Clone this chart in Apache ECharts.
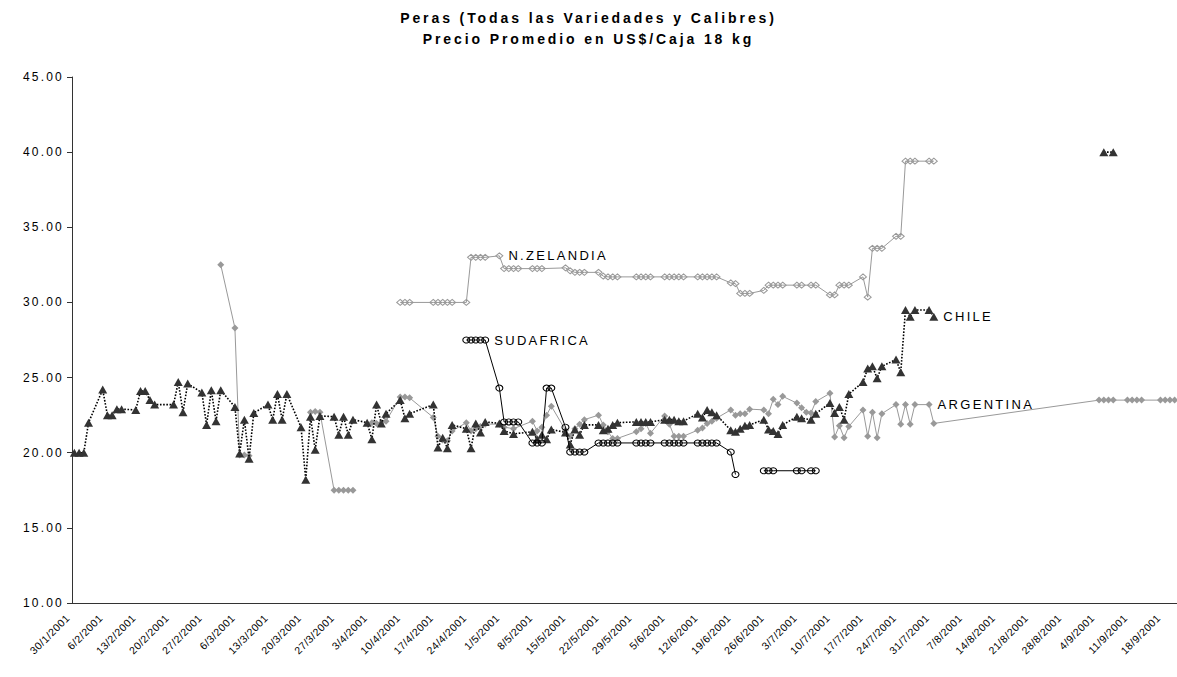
<!DOCTYPE html>
<html>
<head>
<meta charset="utf-8">
<script src="https://cdn.jsdelivr.net/npm/echarts@6/dist/echarts.min.js"></script>
<style>
  html, body { margin: 0; padding: 0; background: #fff; }
  #chart { width: 1177px; height: 677px; }
</style>
</head>
<body>
<div id="chart"></div>
<script>
// ---------- DATA ----------
const START_DAY = 30, START_MONTH = 1, YEAR = 2001, NUM_DAYS = 234;

const yTicks = [10, 15, 20, 25, 30, 35, 40, 45];

const chileDates = ['30/1','31/1','1/2','2/2','5/2','6/2','7/2','8/2','9/2','12/2','13/2','14/2','15/2','16/2',
  '20/2','21/2','22/2','23/2','26/2','27/2','28/2','1/3','2/3','5/3','6/3','7/3','8/3','9/3',
  '12/3','13/3','14/3','15/3','16/3','19/3','20/3','21/3','22/3','23/3','26/3','27/3','28/3','29/3','30/3',
  '2/4','3/4','4/4','5/4','6/4','9/4','10/4','11/4','16/4','17/4','18/4','19/4','20/4',
  '23/4','24/4','25/4','26/4','27/4','30/4','1/5','3/5','7/5','8/5','9/5','10/5','11/5',
  '14/5','15/5','16/5','17/5','18/5','21/5','22/5','23/5','24/5','25/5','29/5','30/5','31/5','1/6',
  '4/6','5/6','6/6','7/6','8/6','11/6','12/6','13/6','14/6','15/6','18/6','19/6','20/6','21/6','22/6',
  '25/6','26/6','27/6','28/6','29/6','2/7','3/7','5/7','6/7','9/7','10/7','11/7','12/7','13/7',
  '16/7','17/7','18/7','19/7','20/7','23/7','24/7','25/7','26/7','27/7','30/7','31/7','1/8','5/9','7/9'];
const chileValues = [20.0,20.0,20.0,22.0,24.2,22.5,22.5,22.9,22.9,22.85,24.1,24.1,23.5,23.2,
  23.2,24.7,22.7,24.6,24.0,21.85,24.15,22.1,24.15,23.05,19.95,22.2,19.6,22.65,
  23.2,22.2,23.9,22.2,23.9,21.7,18.2,22.4,20.2,22.45,22.4,21.2,22.4,21.2,22.2,
  22.0,20.9,23.2,21.95,22.6,23.5,22.3,22.6,23.2,20.35,21.0,20.3,21.85,
  21.6,20.3,21.95,21.35,22.05,21.95,21.45,21.25,21.4,20.9,21.2,20.9,21.55,
  21.35,20.55,21.55,21.2,21.85,21.85,21.5,21.6,21.85,22.0,22.05,22.05,22.05,22.05,
  22.2,22.2,22.2,22.1,22.1,22.6,22.35,22.85,22.7,22.5,21.5,21.4,21.6,21.8,21.85,
  22.2,21.55,21.45,21.25,21.85,22.4,22.3,22.2,22.6,23.3,22.65,23.05,22.2,23.9,
  24.7,25.6,25.75,24.95,25.75,26.2,25.35,29.5,29.05,29.5,29.5,29.05,null,40.0,40.0];

const argentinaDates = ['2/3','5/3','6/3','7/3','8/3','9/3','21/3','22/3','23/3','26/3','27/3','28/3','29/3','30/3','2/4',
  '3/4','4/4','5/4','6/4','9/4','10/4','11/4','16/4','17/4','18/4','19/4','20/4',
  '23/4','24/4','25/4','26/4','27/4','30/4','1/5','3/5','7/5','8/5','9/5','10/5','11/5',
  '14/5','15/5','16/5','17/5','18/5','21/5','22/5','23/5','24/5','25/5','29/5','30/5','31/5','1/6',
  '4/6','5/6','6/6','7/6','8/6','11/6','12/6','13/6','14/6','15/6','18/6','19/6','20/6','21/6','22/6',
  '25/6','26/6','27/6','28/6','29/6','2/7','3/7','4/7','5/7','6/7','9/7','10/7','11/7','12/7','13/7',
  '16/7','17/7','18/7','19/7','20/7','23/7','24/7','25/7','26/7','27/7','30/7','31/7',
  '4/9','5/9','6/9','7/9','10/9','11/9','12/9','13/9','17/9','18/9','19/9','20/9'];
const argentinaValues = [32.5,28.3,19.85,19.85,19.8,null,22.7,22.75,22.7,17.5,17.5,17.5,17.5,17.5,null,
  22.0,21.95,22.0,22.1,23.7,23.7,23.65,22.35,21.1,20.85,20.8,21.45,
  22.0,21.45,21.6,21.75,21.9,21.9,21.7,21.6,22.1,21.45,21.7,22.5,23.1,
  21.5,21.1,21.6,21.9,22.2,22.5,21.85,21.4,20.95,20.95,21.4,21.6,21.95,21.3,
  22.45,21.9,21.1,21.1,21.1,21.5,21.65,21.95,22.1,22.3,22.85,22.5,22.6,22.6,22.9,
  22.85,22.6,23.55,23.2,23.75,23.3,23.0,22.7,22.65,23.4,23.95,21.05,21.8,21.0,21.75,
  22.85,21.1,22.7,21.0,22.6,23.2,21.9,23.2,21.9,23.2,23.2,21.95,
  23.5,23.5,23.5,23.5,23.5,23.5,23.5,23.5,23.5,23.5,23.5,23.5];

const zelandiaDates = ['9/4','10/4','11/4','16/4','17/4','18/4','19/4','20/4','23/4','24/4','25/4','26/4','27/4','30/4',
  '1/5','2/5','3/5','4/5','7/5','8/5','9/5','14/5','15/5','16/5','17/5','18/5','21/5','22/5','23/5','24/5','25/5',
  '29/5','30/5','31/5','1/6','4/6','5/6','6/6','7/6','8/6','11/6','12/6','13/6','14/6','15/6',
  '18/6','19/6','20/6','21/6','22/6','25/6','26/6','27/6','28/6','29/6','2/7','3/7','5/7','6/7',
  '9/7','10/7','11/7','12/7','13/7','16/7','17/7','18/7','19/7','20/7','23/7','24/7','25/7','26/7','27/7','30/7','31/7'];
const zelandiaValues = [30.0,30.0,30.0,30.0,30.0,30.0,30.0,30.0,30.0,33.0,33.0,33.0,33.0,33.1,
  32.25,32.25,32.25,32.25,32.25,32.25,32.25,32.3,32.1,32.0,32.0,32.0,32.0,31.75,31.7,31.7,31.7,
  31.7,31.7,31.7,31.7,31.7,31.7,31.7,31.7,31.7,31.7,31.7,31.7,31.7,31.7,
  31.3,31.25,30.6,30.6,30.6,30.8,31.15,31.15,31.15,31.15,31.15,31.15,31.15,31.15,
  30.5,30.5,31.15,31.15,31.15,31.7,30.35,33.6,33.6,33.6,34.4,34.4,39.4,39.4,39.4,39.4,39.4];

const sudafricaDates = ['23/4','24/4','25/4','26/4','27/4','30/4','1/5','2/5','3/5','4/5','7/5','8/5','9/5','10/5','11/5',
  '14/5','15/5','16/5','17/5','18/5','21/5','22/5','23/5','24/5','25/5','29/5','30/5','31/5','1/6',
  '4/6','5/6','6/6','7/6','8/6','11/6','12/6','13/6','14/6','15/6','18/6','19/6','20/6',
  '25/6','26/6','27/6','2/7','3/7','5/7','6/7'];
const sudafricaValues = [27.5,27.5,27.5,27.5,27.5,24.3,22.05,22.05,22.05,22.05,20.65,20.65,20.65,24.3,24.3,
  21.7,20.05,20.05,20.05,20.05,20.65,20.65,20.65,20.65,20.65,20.65,20.65,20.65,20.65,
  20.65,20.65,20.65,20.65,20.65,20.65,20.65,20.65,20.65,20.65,20.05,18.55,null,
  18.8,18.8,18.8,18.8,18.8,18.8,18.8];

// series name labels, attached to a point of each series
const seriesLabels = [
  { name: 'CHILE', at: '31/7' },
  { name: 'ARGENTINA', at: '30/7' },
  { name: 'N.ZELANDIA', at: '30/4' },
  { name: 'SUDAFRICA', at: '27/4' }
];

// ---------- BUILD ----------
const categories = [];
for (let i = 0; i < NUM_DAYS; i++) {
  const d = new Date(YEAR, START_MONTH - 1, START_DAY + i);
  categories.push(d.getDate() + '/' + (d.getMonth() + 1) + '/' + d.getFullYear());
}
const FONT = 'Liberation Sans, Arial, sans-serif';

function build(name, dates, values) {
  const lab = seriesLabels.find(s => s.name === name);
  return dates.map((d, i) => {
    const item = { value: [d + '/' + YEAR, values[i] === null ? '-' : values[i]] };
    if (lab && lab.at === d) {
      item.label = { show: true, position: 'right', distance: 5, formatter: name,
        fontFamily: FONT, fontSize: 13, color: '#000' };
    }
    return item;
  });
}

const chart = echarts.init(document.getElementById('chart'), null, { renderer: 'svg', width: 1177, height: 677 });

const option = {
  animation: false,
  backgroundColor: '#ffffff',
  title: {
    text: 'Peras (Todas las Variedades y Calibres)\nPrecio Promedio en US$/Caja 18 kg',
    left: 'center', top: 2,
    textStyle: { fontFamily: FONT, fontWeight: 'bold', fontSize: 14, lineHeight: 21, color: '#000' }
  },
  grid: { left: 72, top: 77, width: 1105, height: 526, containLabel: false },
  xAxis: {
    type: 'category', data: categories, boundaryGap: true,
    axisLine: { lineStyle: { color: '#333', width: 1 } },
    axisTick: { interval: 6, length: 5, lineStyle: { color: '#333' } },
    axisLabel: { interval: 6, rotate: 45, fontFamily: FONT, fontSize: 10.5, color: '#000', margin: 7,
      padding: [0, 9, 0, 0] },
    splitLine: { show: false }
  },
  yAxis: {
    type: 'value', min: yTicks[0], max: yTicks[yTicks.length - 1], interval: 5,
    axisLine: { show: true, lineStyle: { color: '#333', width: 1 } },
    axisTick: { show: true, length: 5, lineStyle: { color: '#333' } },
    axisLabel: { formatter: v => v.toFixed(2), fontFamily: FONT, fontSize: 12, color: '#000', margin: 8 },
    splitLine: { show: false }
  },
  series: [
    {
      name: 'ARGENTINA', type: 'line', data: build('ARGENTINA', argentinaDates, argentinaValues),
      symbol: 'diamond', symbolSize: [7, 7], showAllSymbol: true, connectNulls: false,
      itemStyle: { color: '#999999' }, lineStyle: { color: '#999999', width: 1 }, z: 2
    },
    {
      name: 'CHILE', type: 'line', data: build('CHILE', chileDates, chileValues),
      symbol: 'triangle', symbolSize: [9, 8], showAllSymbol: true, connectNulls: false,
      itemStyle: { color: '#333333' }, lineStyle: { color: '#000', width: 1.6, type: 'dotted' }, z: 3
    },
    {
      name: 'N.ZELANDIA', type: 'line', data: build('N.ZELANDIA', zelandiaDates, zelandiaValues),
      symbol: 'diamond', symbolSize: [7, 6], showAllSymbol: true, connectNulls: false,
      itemStyle: { color: 'rgba(255,255,255,0)', borderColor: '#999999', borderWidth: 1 },
      lineStyle: { color: '#999999', width: 1 }, z: 4
    },
    {
      name: 'SUDAFRICA', type: 'line', data: build('SUDAFRICA', sudafricaDates, sudafricaValues),
      symbol: 'circle', symbolSize: [7, 6], showAllSymbol: true, connectNulls: false,
      itemStyle: { color: 'rgba(255,255,255,0)', borderColor: '#000', borderWidth: 1 },
      lineStyle: { color: '#000', width: 1 }, z: 5
    }
  ]
};
chart.setOption(option);

function spaceText() {
  document.querySelectorAll('#chart svg text').forEach(t => {
    const s = t.textContent || '';
    if (/\/2001$/.test(s)) t.style.letterSpacing = '0.5px';
    else if (/^\d+\.\d\d$/.test(s)) t.style.letterSpacing = '2.2px';
    else if (/^(Peras|Precio)/.test(s)) t.style.letterSpacing = '2.9px';
    else t.style.letterSpacing = '2.3px';
  });
}
spaceText();
chart.on('finished', spaceText);
</script>
</body>
</html>
